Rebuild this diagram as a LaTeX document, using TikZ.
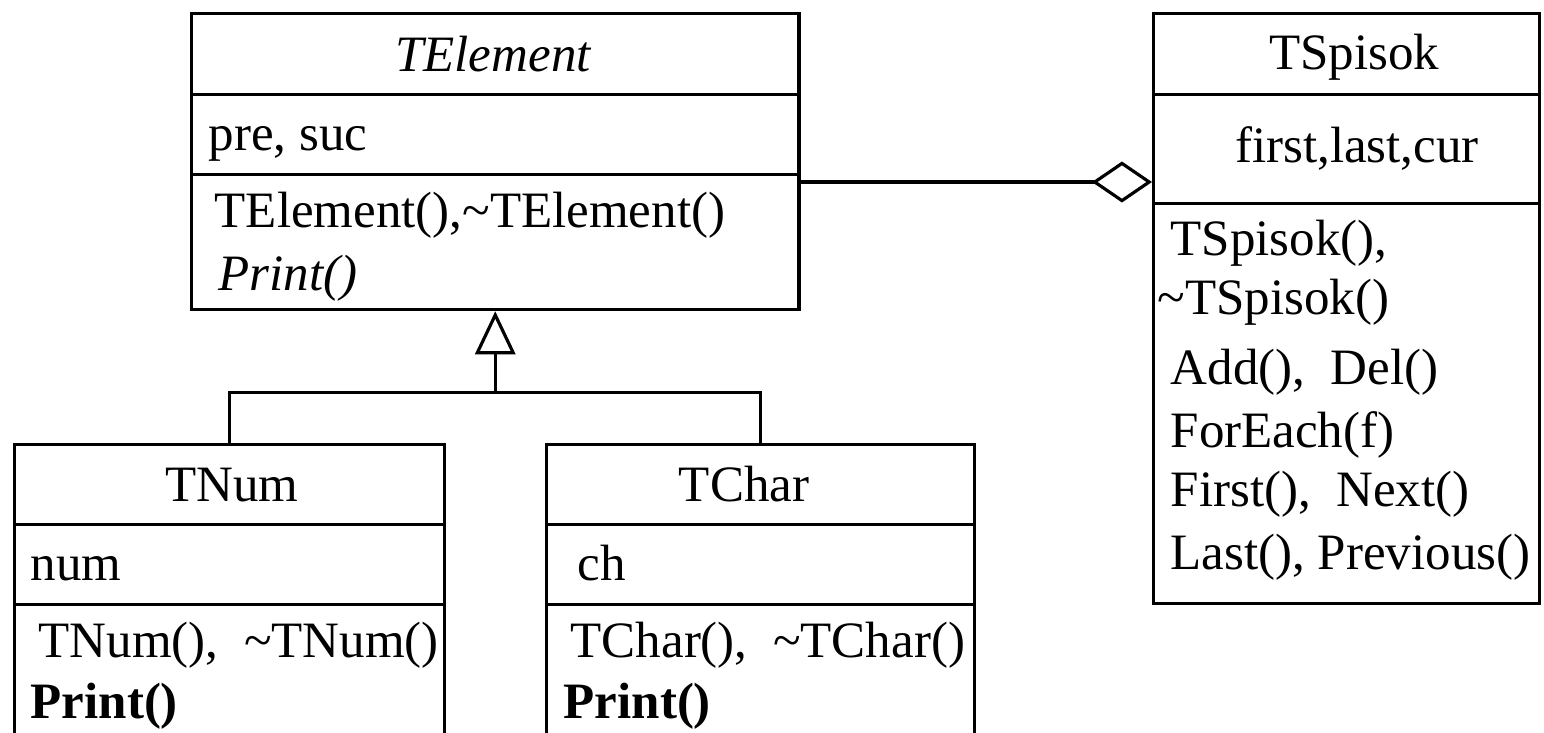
\documentclass[tikz,border=0pt]{standalone}
\usepackage{fontspec}
\setmainfont{Liberation Serif}
\usetikzlibrary{arrows.meta}

\tikzset{
  cell/.style={draw, line width=0.9pt, anchor=north west, inner sep=0pt},
  txt/.style={inner sep=0pt, font=\fontsize{14.5}{17}\selectfont},
  inherit/.style={line width=0.9pt, -{Triangle[open, length=4.3mm, width=4mm]}},
  aggr/.style={line width=0.9pt, -{Diamond[open, length=6mm, width=4.1mm]}}
}

\begin{document}
\begin{tikzpicture}[x=0.01cm, y=-0.01cm]

\clip (0,0) rectangle (1544,733); % page

% TElement
\node[cell, minimum width=6.07cm, minimum height=0.81cm] (elem-name) at (190,12) {};
\node[cell, minimum width=6.07cm, minimum height=0.80cm] (elem-attr) at (190,93) {};
\node[cell, minimum width=6.07cm, minimum height=1.35cm] (elem-ops) at (190,173) {};
\node[txt, anchor=base, font=\fontsize{14.5}{17}\selectfont\itshape] (elem-title) at (493,71) {TElement};
\node[txt, anchor=base west] (elem-fields) at (208,150) {pre, suc};
\node[txt, anchor=base west] (elem-op1) at (214,227) {TElement(),\textasciitilde TElement()};
\node[txt, anchor=base west, font=\fontsize{14.5}{17}\selectfont\itshape] (elem-op2) at (218,290) {Print()};

% TNum
\node[cell, minimum width=4.30cm, minimum height=0.80cm] (num-name) at (13,443) {};
\node[cell, minimum width=4.30cm, minimum height=0.80cm] (num-attr) at (13,523) {};
\node[cell, minimum width=4.30cm, minimum height=1.60cm] (num-ops) at (13,603) {};
\node[txt, anchor=base] (num-title) at (232,501) {TNum};
\node[txt, anchor=base west] (num-fields) at (30,580) {num};
\node[txt, anchor=base west] (num-op1) at (38,657) {TNum(),\ \ \textasciitilde TNum()};
\node[txt, anchor=base west, font=\fontsize{14.5}{17}\selectfont\bfseries] (num-op2) at (30,718) {Print()};

% TChar
\node[cell, minimum width=4.28cm, minimum height=0.80cm] (char-name) at (545,443) {};
\node[cell, minimum width=4.28cm, minimum height=0.80cm] (char-attr) at (545,523) {};
\node[cell, minimum width=4.28cm, minimum height=1.60cm] (char-ops) at (545,603) {};
\node[txt, anchor=base] (char-title) at (744,501) {TChar};
\node[txt, anchor=base west] (char-fields) at (577,580) {ch};
\node[txt, anchor=base west] (char-op1) at (570,657) {TChar(),\ \ \textasciitilde TChar()};
\node[txt, anchor=base west, font=\fontsize{14.5}{17}\selectfont\bfseries] (char-op2) at (563,718) {Print()};

% TSpisok
\node[cell, minimum width=3.86cm, minimum height=0.81cm] (list-name) at (1152,12) {};
\node[cell, minimum width=3.86cm, minimum height=1.09cm] (list-attr) at (1152,93) {};
\node[cell, minimum width=3.86cm, minimum height=4.00cm] (list-ops) at (1152,202) {};
\node[txt, anchor=base] (list-title) at (1354,69) {TSpisok};
\node[txt, anchor=base] (list-fields) at (1357,162) {first,last,cur};
\node[txt, anchor=base west] (list-op1) at (1170,255) {TSpisok(),};
\node[txt, anchor=base west] (list-op2) at (1157,314) {\textasciitilde TSpisok()};
\node[txt, anchor=base west] (list-op3) at (1170,384) {Add(),\ \ Del()};
\node[txt, anchor=base west] (list-op4) at (1170,447) {ForEach(f)};
\node[txt, anchor=base west] (list-op5) at (1170,506) {First(),\ \ Next()};
\node[txt, anchor=base west] (list-op6) at (1170,569) {Last(), Previous()};

% Inheritance
\coordinate (fork) at ([yshift=-0.81cm]elem-ops.south);
\draw[line width=0.9pt] (num-name.north) |- (fork) -| (char-name.north);
\draw[inherit] (fork) -- (elem-ops.south);

% Aggregation
\coordinate (agg) at ([yshift=-0.09cm]elem-ops.north east);
\draw[aggr] (agg) -- (agg -| list-attr.west);

\end{tikzpicture}
\end{document}
